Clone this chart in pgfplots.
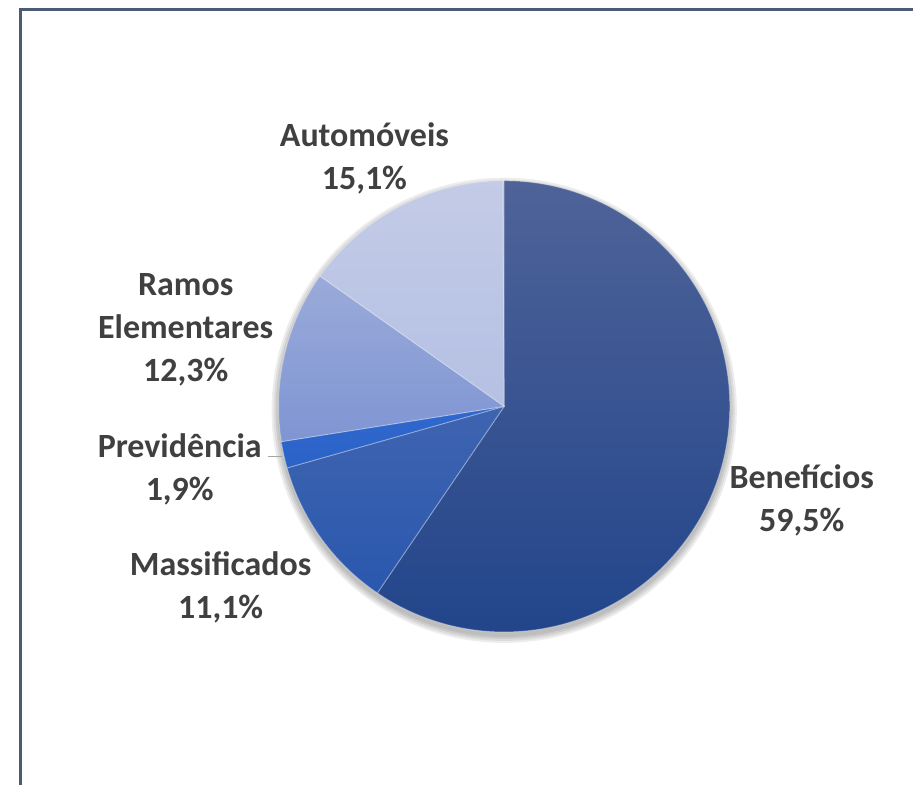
\documentclass[border=0pt]{standalone}
\usepackage{pgfplots}
\pgfplotsset{compat=1.18}
\usepackage{pgfplotstable}
\usepackage{fontspec}
\setmainfont{Carlito}

% shares in the order they run clockwise from 12 o'clock
\pgfplotstableread{
share
59.5
11.1
1.9
12.3
15.1
}\piedata

\definecolor{top0}{HTML}{4F6398}\definecolor{bot0}{HTML}{22458B}
\definecolor{top1}{HTML}{3F64B0}\definecolor{bot1}{HTML}{2A58AE}
\definecolor{top2}{HTML}{2F68CE}\definecolor{bot2}{HTML}{2B62C8}
\definecolor{top3}{HTML}{9AAAD9}\definecolor{bot3}{HTML}{7F95D3}
\definecolor{top4}{HTML}{C3CBE6}\definecolor{bot4}{HTML}{B5C0E4}
\definecolor{lbl}{HTML}{404040}
\definecolor{framec}{HTML}{4B5B73}

\begin{document}
\begin{tikzpicture}
\begin{axis}[
    x=0.5bp, y=0.5bp,
    xmin=0, xmax=914, ymin=0, ymax=786,
    scale only axis, hide axis, clip=false,
]
\path (axis cs:0,0) rectangle (axis cs:914,786);
% chart frame (right and bottom sides are cut off)
\draw[framec, line width=1.5bp] (axis cs:20.5,0) -- (axis cs:20.5,776.5) -- (axis cs:914,776.5);

% soft shadow under the pie
\fill[black, opacity=0.07] (axis cs:505,375) circle[radius=116.5bp];
\fill[black, opacity=0.07] (axis cs:505,375) circle[radius=115.5bp];
\fill[black, opacity=0.07] (axis cs:505,375) circle[radius=114.5bp];
\fill[black, opacity=0.07] (axis cs:505,375) circle[radius=113.5bp];

\def\cum{0}
\pgfplotsforeachungrouped \i in {0,...,4}{
    \pgfplotstablegetelem{\i}{share}\of\piedata
    \let\val\pgfplotsretval
    \pgfmathsetmacro\a{90-3.6*\cum}
    \pgfmathsetmacro\b{90-3.6*(\cum+\val)}
    \edef\tmp{\noexpand\shadedraw[top color=top\i, bottom color=bot\i,
        draw=white, draw opacity=0.3, line width=0.5bp]
        (axis cs:505,379) -- ++(\a:113bp) arc[start angle=\a, end angle=\b, radius=113bp] -- cycle;}
    \tmp
    \pgfmathsetmacro\cum{\cum+\val}
}

% leader line for the small slice
\draw[gray!70, line width=0.6bp] (axis cs:268,329) -- (axis cs:282,329);

\tikzset{lab/.style={align=center, text=lbl, font=\fontsize{17bp}{21.5bp}\selectfont\bfseries, inner sep=0pt}}
\node[lab] at (axis cs:365,627) {Automóveis\\15,1\%};
\node[lab] at (axis cs:186,456) {Ramos\\Elementares\\12,3\%};
\node[lab] at (axis cs:180,316) {Previdência\\1,9\%};
\node[lab] at (axis cs:221,198) {Massificados\\11,1\%};
\node[lab] at (axis cs:803,284.5) {Benefícios\\59,5\%};
\end{axis}
\end{tikzpicture}
\end{document}
